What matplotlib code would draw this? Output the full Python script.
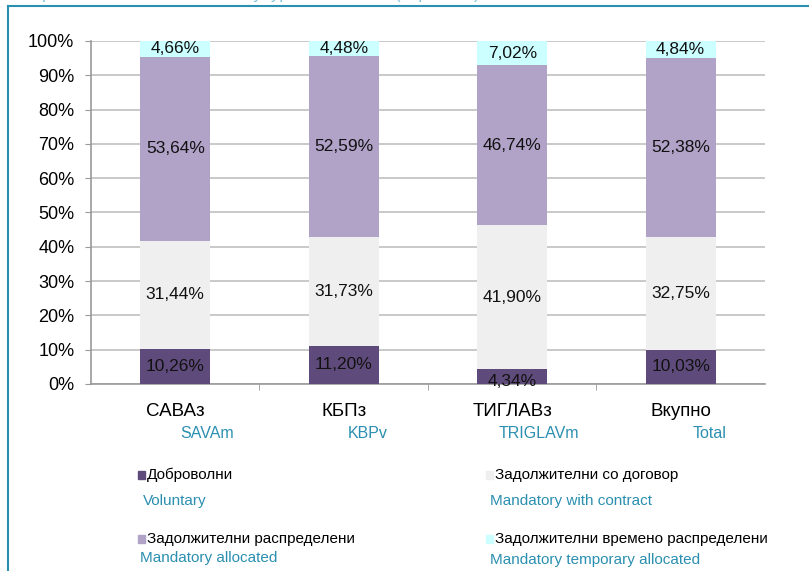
import numpy as np
import matplotlib
matplotlib.use("Agg")
import matplotlib.pyplot as plt
import matplotlib.patches as mpatches
from matplotlib.lines import Line2D

plt.rcParams["font.family"] = ["Liberation Sans", "DejaVu Sans"]

# ── Data ─────────────────────────────────────────────────────────────────────
categories    = ["САВАз", "КБПз", "ТИГЛАВз", "Вкупно"]
categories_en = ["SAVAm", "KBPv", "TRIGLAVm", "Total"]
en_offset     = [0.19, 0.14, 0.16, 0.17]   # english sub-label shift (category units)

voluntary     = [10.26, 11.20, 4.34, 10.03]
with_contract = [31.44, 31.73, 41.90, 32.75]
allocated     = [53.64, 52.59, 46.74, 52.38]
temporary     = [4.66, 4.48, 7.02, 4.84]

series_mk = ["Доброволни", "Задолжителни со договор",
             "Задолжителни распределени", "Задолжителни времено распределени"]
series_en = ["Voluntary", "Mandatory with contract",
             "Mandatory allocated", "Mandatory temporary allocated"]
colors = ["#5f4b7b", "#efefef", "#b1a2c8", "#ccffff"]

yticks = [0, 10, 20, 30, 40, 50, 60, 70, 80, 90, 100]

TEAL = "#2a8fb0"

# ── Figure ───────────────────────────────────────────────────────────────────
fig = plt.figure(figsize=(8.09, 5.71), dpi=100)
ax = fig.add_axes([0.1125, 0.3275, 0.833, 0.6007])

x = np.arange(len(categories))
bottom = np.zeros(len(categories))
for vals, col in zip([voluntary, with_contract, allocated, temporary], colors):
    vals = np.array(vals)
    ax.bar(x, vals, width=0.415, bottom=bottom, color=col, zorder=3)
    for xi, b, v in zip(x, bottom, vals):
        # a tiny bottom segment: label sits a bit lower, like the original
        yc = b + v / 2 - (1.5 if (b == 0 and v < 5) else 0)
        ax.text(xi, yc, f"{v:.2f}%".replace(".", ","),
                ha="center", va="center", fontsize=12.5, color="#111111", zorder=4)
    bottom += vals

ax.set_xlim(-0.5, len(categories) - 0.5)
ax.set_ylim(0, 100)
ax.set_yticks(yticks)
ax.set_yticklabels([f"{t}%" for t in yticks], fontsize=13)
ax.yaxis.grid(True, color="#c0c0c0", linewidth=1.2, zorder=0)
ax.tick_params(axis="y", length=4, color="#999999", pad=8)

# category labels: major ticks hidden, minor ticks between categories
ax.set_xticks(x)
ax.set_xticklabels(categories, fontsize=13.5)
ax.tick_params(axis="x", which="major", length=0, pad=14)
ax.set_xticks(np.arange(0.5, len(categories) - 0.5, 1), minor=True)
ax.tick_params(axis="x", which="minor", length=4, color="#999999")
for xi, lbl, off in zip(x, categories_en, en_offset):
    ax.text(xi + off, -0.145, lbl, transform=ax.get_xaxis_transform(),
            ha="center", va="center", fontsize=11.5, color=TEAL)

for s in ["top", "right"]:
    ax.spines[s].set_visible(False)
for s in ["left", "bottom"]:
    ax.spines[s].set_color("#999999")
    ax.spines[s].set_linewidth(1.2)

# ── Legend (drawn manually, two columns) ─────────────────────────────────────
W, H = 809, 571
leg_pos = [(138, 475, 143, 501), (486, 475, 490, 501),
           (138, 539, 140, 558), (486, 539, 490, 560)]
for (mx, my, ex, ey), lab, lab_en, col in zip(leg_pos, series_mk, series_en, colors):
    fig.patches.append(mpatches.Rectangle((mx / W, 1 - (my + 4) / H), 7 / W, 8 / H,
                                          transform=fig.transFigure, color=col))
    fig.text((mx + 9) / W, 1 - my / H, lab, fontsize=11, va="center", ha="left")
    fig.text(ex / W, 1 - ey / H, lab_en, fontsize=11, va="center", ha="left", color=TEAL,
             bbox=dict(facecolor="white", edgecolor="none", pad=1.5))

# ── Frame and clipped title ──────────────────────────────────────────────────
fig.add_artist(Line2D([8 / W, 8 / W], [0, 1 - 6 / H], transform=fig.transFigure,
                      color=TEAL, linewidth=1.5))
fig.add_artist(Line2D([8 / W, 1], [1 - 6 / H, 1 - 6 / H], transform=fig.transFigure,
                      color=TEAL, linewidth=1.5))
fig.text(14 / W, 1 + 5 / H, "Graph 5 Structure of members by type of members (in percent)",
         fontsize=12, color="#7fc4da", va="center", ha="left")

fig.savefig("out.png", dpi=100)
